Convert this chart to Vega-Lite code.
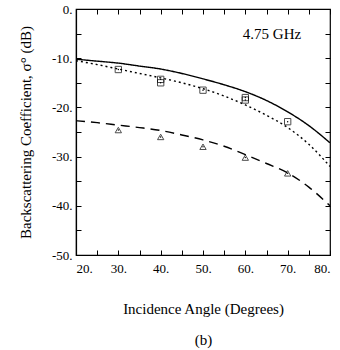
{
  "$schema": "https://vega.github.io/schema/vega-lite/v6.json",
  "width": 254,
  "height": 246,
  "autosize": "none",
  "padding": {"left": 76, "top": 9, "right": 10, "bottom": 95},
  "background": "white",
  "config": {
    "font": "Times New Roman, Liberation Serif, serif",
    "view": {"stroke": "black", "strokeWidth": 1.2},
    "axis": {"domainColor": "black", "tickColor": "black", "labelColor": "black", "titleColor": "black", "labelFont": "Times New Roman, Liberation Serif, serif", "titleFont": "Times New Roman, Liberation Serif, serif", "labelFontSize": 13, "titleFontSize": 15, "titleFontWeight": "normal", "grid": false, "tickSize": -5, "domainWidth": 1.2}
  },
  "datasets": {
    "curves": [
      {"angle": 20, "value": -10.2, "series": "solid"},
      {"angle": 25, "value": -10.6, "series": "solid"},
      {"angle": 30, "value": -11.0, "series": "solid"},
      {"angle": 35, "value": -11.6, "series": "solid"},
      {"angle": 40, "value": -12.2, "series": "solid"},
      {"angle": 45, "value": -13.1, "series": "solid"},
      {"angle": 50, "value": -14.2, "series": "solid"},
      {"angle": 55, "value": -15.4, "series": "solid"},
      {"angle": 60, "value": -16.8, "series": "solid"},
      {"angle": 65, "value": -18.6, "series": "solid"},
      {"angle": 70, "value": -20.9, "series": "solid"},
      {"angle": 75, "value": -23.7, "series": "solid"},
      {"angle": 80, "value": -27.2, "series": "solid"},
      {"angle": 20, "value": -10.5, "series": "dotted"},
      {"angle": 25, "value": -11.3, "series": "dotted"},
      {"angle": 30, "value": -12.2, "series": "dotted"},
      {"angle": 35, "value": -13.1, "series": "dotted"},
      {"angle": 40, "value": -14.0, "series": "dotted"},
      {"angle": 45, "value": -15.0, "series": "dotted"},
      {"angle": 50, "value": -16.2, "series": "dotted"},
      {"angle": 55, "value": -17.7, "series": "dotted"},
      {"angle": 60, "value": -19.5, "series": "dotted"},
      {"angle": 65, "value": -21.6, "series": "dotted"},
      {"angle": 70, "value": -24.1, "series": "dotted"},
      {"angle": 75, "value": -27.5, "series": "dotted"},
      {"angle": 80, "value": -32.0, "series": "dotted"},
      {"angle": 20, "value": -22.7, "series": "dashed"},
      {"angle": 25, "value": -23.1, "series": "dashed"},
      {"angle": 30, "value": -23.6, "series": "dashed"},
      {"angle": 35, "value": -24.1, "series": "dashed"},
      {"angle": 40, "value": -24.7, "series": "dashed"},
      {"angle": 45, "value": -25.6, "series": "dashed"},
      {"angle": 50, "value": -26.6, "series": "dashed"},
      {"angle": 55, "value": -27.9, "series": "dashed"},
      {"angle": 60, "value": -29.6, "series": "dashed"},
      {"angle": 65, "value": -31.4, "series": "dashed"},
      {"angle": 70, "value": -33.3, "series": "dashed"},
      {"angle": 75, "value": -36.2, "series": "dashed"},
      {"angle": 80, "value": -40.0, "series": "dashed"}
    ],
    "obs": [
      {"angle": 30, "value": -12.3, "type": "square"},
      {"angle": 40, "value": -14.3, "type": "square"},
      {"angle": 40, "value": -15.0, "type": "square"},
      {"angle": 50, "value": -16.5, "type": "square"},
      {"angle": 60, "value": -18.0, "type": "square"},
      {"angle": 60, "value": -18.5, "type": "square"},
      {"angle": 70, "value": -22.9, "type": "square"},
      {"angle": 30, "value": -24.6, "type": "triangle"},
      {"angle": 40, "value": -26.0, "type": "triangle"},
      {"angle": 50, "value": -28.0, "type": "triangle"},
      {"angle": 60, "value": -30.2, "type": "triangle"},
      {"angle": 70, "value": -33.4, "type": "triangle"}
    ],
    "label": [{"text": "4.75 GHz"}]
  },
  "layer": [
    {
      "data": {"name": "curves"},
      "mark": {"type": "line", "interpolate": "monotone", "color": "black", "strokeWidth": 1.4, "clip": true},
      "encoding": {
        "x": {"field": "angle", "type": "quantitative", "scale": {"domain": [20, 80], "nice": false}, "axis": {"orient": "bottom", "values": [20,25,30,35,40,45,50,55,60,65,70,75,80], "labelExpr": "datum.value % 10 == 0 ? datum.value + '.' : ''", "labelPadding": 12, "title": ["Incidence Angle (Degrees)", "(b)"], "titleLineHeight": 31, "titlePadding": 26}},
        "y": {"field": "value", "type": "quantitative", "scale": {"domain": [-50, 0], "nice": false}, "axis": {"orient": "left", "values": [-50,-45,-40,-35,-30,-25,-20,-15,-10,-5,0], "labelExpr": "datum.value % 10 == 0 ? datum.value + '.' : ''", "labelPadding": 9, "title": "Backscattering Coefficient, σ° (dB)", "titlePadding": 18}},
        "strokeDash": {"field": "series", "type": "nominal", "scale": {"domain": ["solid", "dotted", "dashed"], "range": [[1, 0], [2, 3], [9, 6]]}, "legend": null}
      }
    },
    {
      "data": {"name": "obs"},
      "mark": {"type": "point", "filled": false, "color": "black", "strokeWidth": 1, "size": 40},
      "encoding": {
        "x": {"field": "angle", "type": "quantitative", "axis": null},
        "y": {"field": "value", "type": "quantitative", "axis": null},
        "shape": {"field": "type", "type": "nominal", "scale": {"domain": ["square", "triangle"], "range": ["square", "triangle-up"]}, "legend": null}
      }
    },
    {
      "data": {"name": "obs"},
      "mark": {"type": "point", "filled": true, "color": "black", "size": 2, "opacity": 1},
      "encoding": {
        "x": {"field": "angle", "type": "quantitative", "axis": null},
        "y": {"field": "value", "type": "quantitative", "axis": null}
      }
    },
    {
      "data": {"name": "label"},
      "mark": {"type": "text", "font": "Times New Roman, Liberation Serif, serif", "fontSize": 15, "color": "black", "align": "center", "baseline": "middle"},
      "encoding": {
        "text": {"field": "text"},
        "x": {"datum": 66.3, "type": "quantitative", "axis": {"orient": "top", "values": [20,25,30,35,40,45,50,55,60,65,70,75,80], "labels": false, "title": null, "domain": false}},
        "y": {"datum": -5.1, "type": "quantitative", "axis": {"orient": "right", "values": [-50,-45,-40,-35,-30,-25,-20,-15,-10,-5,0], "labels": false, "title": null, "domain": false}}
      }
    }
  ],
  "resolve": {"axis": {"x": "independent", "y": "independent"}}
}
